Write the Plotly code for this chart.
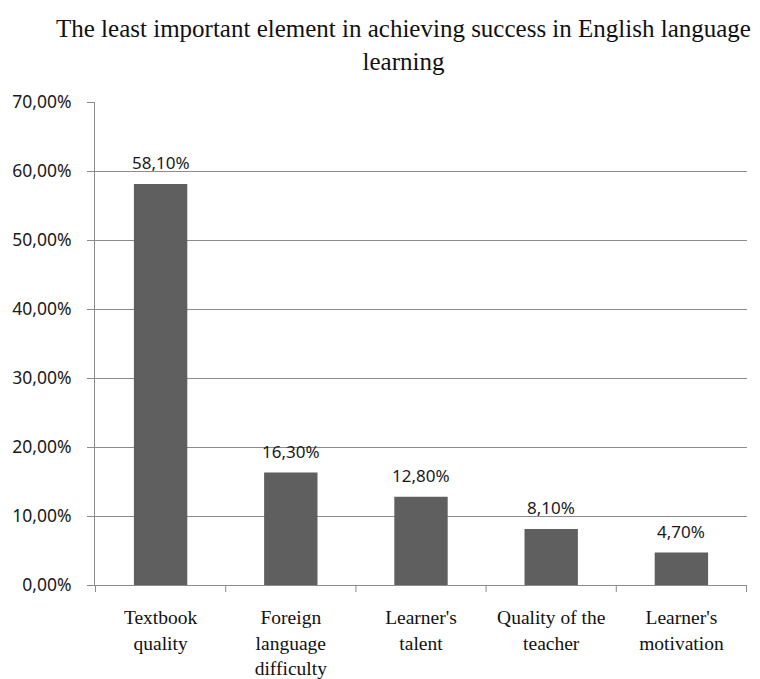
import plotly.graph_objects as go

categories = ["Textbook<br>quality", "Foreign<br>language<br>difficulty", "Learner's<br>talent",
              "Quality of the<br>teacher", "Learner's<br>motivation"]
shares = [0.581, 0.163, 0.128, 0.081, 0.047]
y_ticks = [0.0, 0.1, 0.2, 0.3, 0.4, 0.5, 0.6, 0.7]
y_tick_labels = ["0,00%", "10,00%", "20,00%", "30,00%", "40,00%", "50,00%", "60,00%", "70,00%"]
title_lines = ["The least important element in achieving success in English language", "learning"]

SERIF = "Liberation Serif, Times New Roman, serif"
SANS = "Noto Sans, Liberation Sans, sans-serif"

def pct(v):
    return f"{v * 100:.2f}".replace(".", ",") + "%"

fig = go.Figure()
fig.add_trace(go.Bar(
    x=categories,
    y=shares,
    marker=dict(color="#5f5f5f", line=dict(width=0)),
    hoverinfo="skip",
))

for c, v in zip(categories, shares):
    fig.add_annotation(
        x=c, y=v, xref="x", yref="y",
        text=pct(v), showarrow=False,
        yanchor="bottom", yshift=8,
        font=dict(family=SANS, size=17, color="#1a1a1a"),
    )

# two-line chart title
fig.add_annotation(
    text="<br>".join(title_lines),
    xref="paper", yref="paper", x=0.473, y=1.0, yshift=25,
    xanchor="center", yanchor="bottom", showarrow=False,
    font=dict(family=SERIF, size=25, color="#111111"),
)

fig.update_layout(
    width=760, height=679,
    margin=dict(l=95, r=13, t=102, b=94),
    paper_bgcolor="white", plot_bgcolor="white",
    bargap=0.59,
    showlegend=False,
)

fig.update_xaxes(
    automargin=False,
    showgrid=False,
    showline=True, linecolor="#8c8c8c", linewidth=1,
    ticks="", tickfont=dict(family=SERIF, size=19.5, color="#111111"),
    ticklabelstandoff=15,
)

fig.update_yaxes(
    automargin=False,
    range=[0, 0.7],
    tickvals=y_ticks, ticktext=y_tick_labels,
    showgrid=True, gridcolor="#8c8c8c", gridwidth=1,
    showline=True, linecolor="#8c8c8c", linewidth=1,
    ticks="outside", ticklen=7, tickcolor="#8c8c8c",
    ticklabelstandoff=12,
    tickfont=dict(family=SANS, size=17.5, color="#1a1a1a"),
    zeroline=False,
)

# category boundary tick marks below the x axis
n = len(categories)
for i in range(n + 1):
    fig.add_shape(
        type="line", xref="x", yref="paper",
        x0=i - 0.5, x1=i - 0.5, y0=0, y1=-0.0145,
        line=dict(color="#8c8c8c", width=1),
    )

fig.write_html("out.html")
